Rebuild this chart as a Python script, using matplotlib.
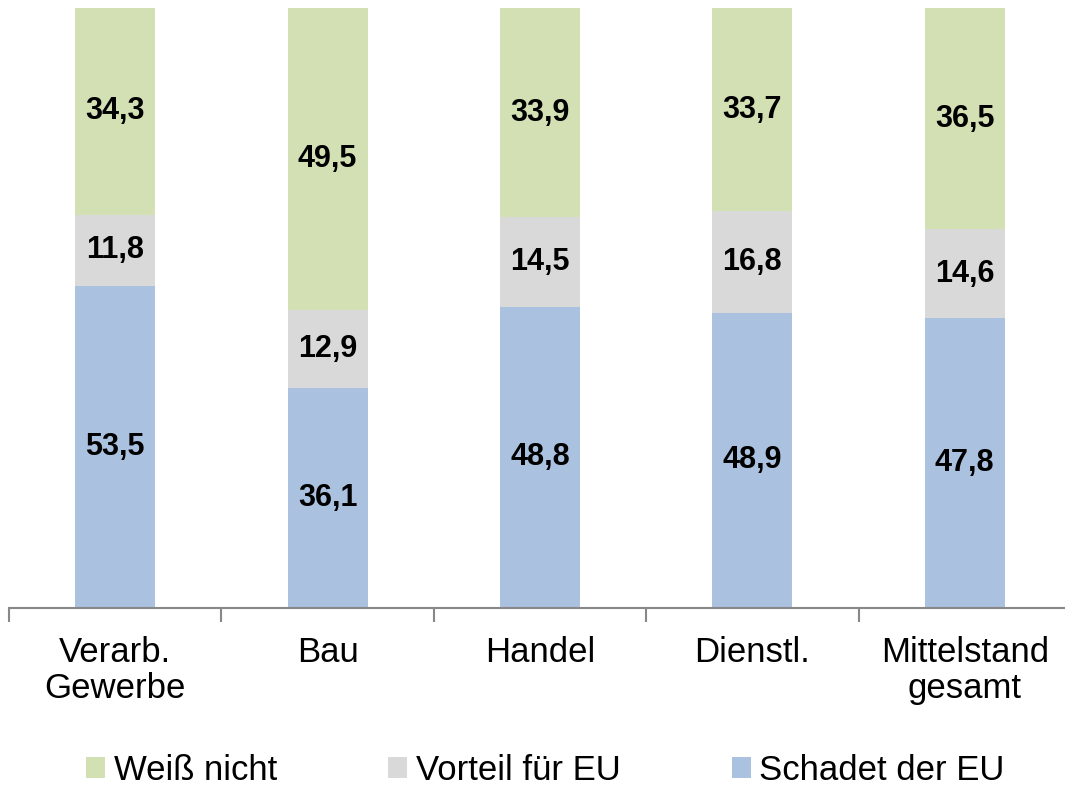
import matplotlib.pyplot as plt
import numpy as np

plt.rcParams['font.family'] = ['Liberation Sans', 'DejaVu Sans']

# Daten
kategorien = ["Verarb.\nGewerbe", "Bau", "Handel", "Dienstl.", "Mittelstand\ngesamt"]
schadet = np.array([53.5, 36.1, 48.8, 48.9, 47.8])
vorteil = np.array([11.8, 12.9, 14.5, 16.8, 14.6])
weiss_nicht = np.array([34.3, 49.5, 33.9, 33.7, 36.5])

serien = [("Schadet der EU", schadet, "#abc1e0"),
          ("Vorteil für EU", vorteil, "#d9d9d9"),
          ("Weiß nicht", weiss_nicht, "#d3e0b4")]

summe = schadet + vorteil + weiss_nicht

fig = plt.figure(figsize=(10.65, 7.87), dpi=100)
ax = fig.add_axes([9 / 1065, 179 / 787, 1062 / 1065, 600 / 787])

x = np.arange(len(kategorien))
unten = np.zeros(len(kategorien))
handles = []
for name, werte, farbe in serien:
    anteil = werte / summe * 100
    b = ax.bar(x, anteil, width=0.376, bottom=unten, color=farbe, label=name)
    handles.append(b)
    for xi, u, a, w in zip(x, unten, anteil, werte):
        ax.text(xi, u + a / 2, f"{w:.1f}".replace(".", ","), ha="center", va="center",
                fontsize=22, fontweight="bold", color="black")
    unten += anteil

ax.set_xlim(-0.5, 4.5)
ax.set_ylim(0, 100)
ax.set_yticks([])
for s in ["top", "right", "left"]:
    ax.spines[s].set_visible(False)
ax.spines["bottom"].set_color("#888888")
ax.spines["bottom"].set_linewidth(1.5)

ax.set_xticks(np.arange(-0.5, 4.6, 1.0))
ax.set_xticklabels([])
ax.tick_params(axis="x", length=10, width=1.5, color="#888888")
ax.set_xticks(x, minor=True)
ax.set_xticklabels(kategorien, minor=True, fontsize=25, linespacing=1.13)
ax.tick_params(axis="x", which="minor", length=0, pad=20)

leg = fig.legend(handles[::-1], [h.get_label() for h in handles[::-1]],
                 loc="center", bbox_to_anchor=(0.512, 17 / 787), ncol=3,
                 frameon=False, fontsize=25, handlelength=0.55, handleheight=0.55,
                 handletextpad=0.25, columnspacing=3.2)

fig.savefig("out.png", dpi=100)
